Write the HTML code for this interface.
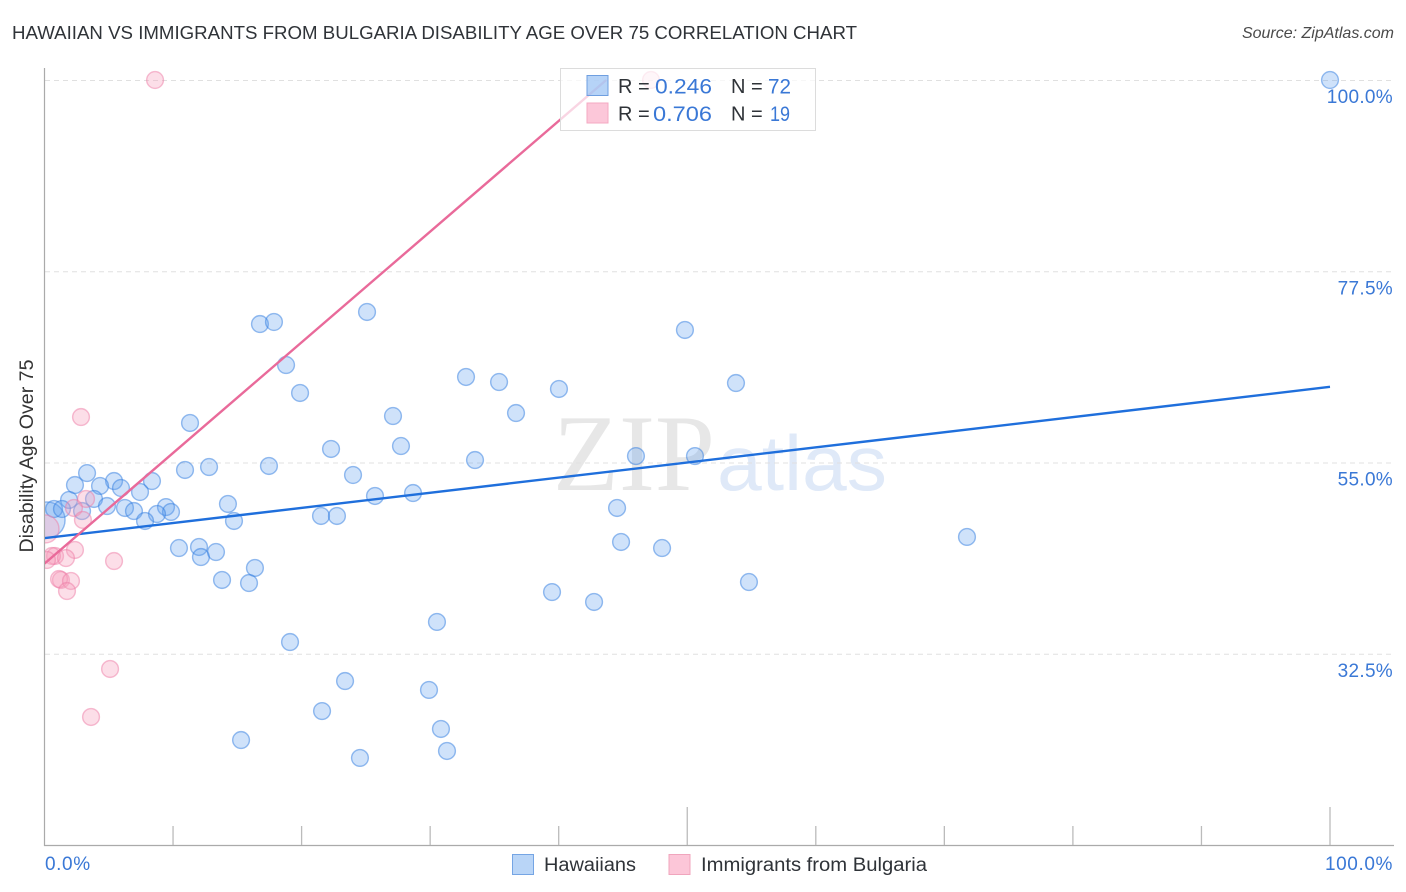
<!DOCTYPE html>
<html lang="en">
<head>
<meta charset="utf-8">
<title>Hawaiian vs Immigrants from Bulgaria Disability Age Over 75 Correlation Chart</title>
<style>
html,body{margin:0;padding:0;background:#fff;width:1406px;height:892px;overflow:hidden}
svg{display:block;font-family:"Liberation Sans",sans-serif}
</style>
</head>
<body>
<svg id="chart" width="1406" height="892" viewBox="0 0 1406 892" xmlns="http://www.w3.org/2000/svg">
  <defs><clipPath id="plot-clip"><rect x="45" y="60" width="1349" height="785"/></clipPath></defs>
  <text x="12" y="39" font-size="18.5" fill="#2f3338" textLength="845" lengthAdjust="spacingAndGlyphs">HAWAIIAN VS IMMIGRANTS FROM BULGARIA DISABILITY AGE OVER 75 CORRELATION CHART</text>
  <text x="1394" y="38" font-size="16" font-style="italic" fill="#4a4a4a" text-anchor="end">Source: ZipAtlas.com</text>
  <g>
    <text x="553" y="490" font-family="'Liberation Serif',serif" font-size="109" fill="#e7e7e7" textLength="162" lengthAdjust="spacingAndGlyphs">ZIP</text>
    <text x="717" y="490" font-size="78" fill="#dfe9f8" textLength="170" lengthAdjust="spacingAndGlyphs">atlas</text>
  </g>
  <g id="grid"></g>
  <g id="axes"></g>
  <g id="series" clip-path="url(#plot-clip)"></g>
  <text transform="translate(33,456) rotate(-90)" font-size="19" fill="#333" text-anchor="middle" textLength="193" lengthAdjust="spacingAndGlyphs">Disability Age Over 75</text>

  <g>
    <rect x="560.5" y="68.5" width="255" height="62" fill="#fff" fill-opacity="0.72" stroke="#dcdcdc"/>
    <rect x="587" y="75.5" width="21" height="20" fill="#8fbcf3" fill-opacity="0.65" stroke="#6f9fe0"/>
    <rect x="587" y="103" width="21" height="20" fill="#fbb4cc" fill-opacity="0.75" stroke="#f4a8c2"/>
    <g font-size="20" fill="#2f3338">
      <text x="618" y="93">R =</text>
      <text x="731" y="93">N =</text>
      <text x="618" y="120.500">R =</text>
      <text x="731" y="120.500">N =</text>
    </g>
    <g font-size="21" fill="#3a78d6">
      <text x="655" y="93.500" textLength="57" lengthAdjust="spacingAndGlyphs">0.246</text>
      <text x="768" y="93.500" textLength="23" lengthAdjust="spacingAndGlyphs">72</text>
      <text x="653" y="121" textLength="59" lengthAdjust="spacingAndGlyphs">0.706</text>
      <text x="770" y="121" textLength="20" lengthAdjust="spacingAndGlyphs">19</text>
    </g>
  </g>

  <g>
    <g>
      <rect x="512.500" y="854.500" width="21" height="20" fill="#b9d5f7" stroke="#75a5e4"/>
      <text x="544" y="871" font-size="19" fill="#2f3338" textLength="92" lengthAdjust="spacingAndGlyphs">Hawaiians</text>
    </g>
    <g>
      <rect x="669" y="854.500" width="21" height="20" fill="#fcc6d8" stroke="#f0a5bd"/>
      <text x="701" y="871" font-size="19" fill="#2f3338" textLength="226" lengthAdjust="spacingAndGlyphs">Immigrants from Bulgaria</text>
    </g>
  </g>
</svg>
<script>
const yTickValues = [100, 77.5, 55, 32.5];
const yTickLabels = ["100.0%", "77.5%", "55.0%", "32.5%"];
const xTickValues = [10, 20, 30, 40, 50, 60, 70, 80, 90, 100];
const xMajorTicks = [50, 100];
const xEndValues = [0, 100];
const xEndLabels = ["0.0%", "100.0%"];

const hawaiianX = [100, 25.09, 16.76, 17.85, 49.82, 18.79, 32.79, 35.36, 53.79, 40.02, 19.88, 36.68, 27.11, 11.32, 27.73, 22.29, 46.01, 50.6, 33.49, 17.46, 12.8, 10.93, 24, 3.31, 5.41, 8.36, 2.37, 4.32, 5.95, 7.43, 28.67, 25.71, 3.85, 1.91, 14.27, 0.74, 1.36, 4.86, 6.26, 6.96, 9.45, 9.84, 8.75, 7.82, 21.51, 22.75, 44.54, 14.74, 71.76, 44.85, 48.04, 10.46, 12.02, 12.17, 13.34, 16.37, 13.81, 15.91, 54.8, 39.48, 42.75, 30.53, 19.1, 23.38, 29.91, 21.59, 30.84, 15.29, 31.31, 24.54, 2.92];
const hawaiianY = [100, 72.71, 71.29, 71.53, 70.59, 66.47, 65.06, 64.47, 64.35, 63.65, 63.18, 60.82, 60.47, 59.65, 56.94, 56.59, 55.76, 55.76, 55.29, 54.59, 54.47, 54.12, 53.53, 53.76, 52.82, 52.82, 52.35, 52.24, 52, 51.53, 51.41, 51.06, 50.71, 50.59, 50.12, 49.53, 49.53, 49.88, 49.65, 49.29, 49.76, 49.18, 48.94, 48.12, 48.71, 48.71, 49.65, 48.12, 46.24, 45.65, 44.94, 44.94, 45.06, 43.88, 44.47, 42.59, 41.18, 40.82, 40.94, 39.76, 38.59, 36.24, 33.88, 29.29, 28.24, 25.76, 23.65, 22.35, 21.06, 20.24, 49.29];
const hawaiianLargeX = [0.2];
const hawaiianLargeY = [48.24];

const bulgariaX = [8.6, 47.18, 2.84, 3.23, 2.29, 2.99, 2.37, 0.82, 0.58, 1.67, 0.19, 5.41, 1.28, 1.13, 2.06, 1.75, 5.1, 3.62];
const bulgariaY = [100, 100, 60.35, 50.71, 49.65, 48.24, 44.71, 44, 44, 43.76, 43.53, 43.41, 41.18, 41.29, 41.06, 39.88, 30.71, 25.06];
const bulgariaLargeX = [0.04];
const bulgariaLargeY = [47.18];

const hawaiianTrendX = [0, 100];
const hawaiianTrendY = [46.1, 63.9];
const bulgariaTrendX = [0, 43.7];
const bulgariaTrendY = [43.1, 100];

const sx = function (v) { return 44.5 + v * 12.855; };
const sy = function (v) { return 80 + (100 - v) * 8.5; };
const NS = 'http://www.w3.org/2000/svg';
const gridLayer = document.getElementById('grid');
const axesLayer = document.getElementById('axes');
const seriesLayer = document.getElementById('series');

function mk(tag, attrs, parent) {
  const node = document.createElementNS(NS, tag);
  Object.keys(attrs).forEach(function (k) { node.setAttribute(k, attrs[k]); });
  parent.appendChild(node);
  return node;
}

yTickValues.forEach(function (v, i) {
  const line = mk('line', {x1: 45, x2: 1394, y1: sy(v) + 0.5, y2: sy(v) + 0.5, stroke: '#e0e0e0', 'stroke-dasharray': '5 4'}, gridLayer);
  
  
  const label = mk('text', {x: 1393, y: sy(v) + 23, 'font-size': 19, 'letter-spacing': 0.3, fill: '#3a78d6', 'text-anchor': 'end'}, axesLayer);
  label.textContent = yTickLabels[i];
  
  
});

const yAxis = mk('line', {x1: 44.5, x2: 44.5, y1: 68, y2: 846, stroke: '#aaaaaa', 'stroke-width': 1.2}, axesLayer);


const xAxis = mk('line', {x1: 44, x2: 1394, y1: 845.5, y2: 845.5, stroke: '#aaaaaa', 'stroke-width': 1.2}, axesLayer);



xTickValues.forEach(function (v) {
  const top = xMajorTicks.indexOf(v) >= 0 ? 807 : 826;
  const tick = mk('line', {x1: sx(v), x2: sx(v), y1: top, y2: 845, stroke: '#bbbbbb', 'stroke-width': 1.3}, axesLayer);
  
  
});

xEndValues.forEach(function (v, i) {
  const label = mk('text', {x: i === 0 ? sx(v) + 0.5 : 1393, y: 870, 'font-size': 19, 'letter-spacing': 0.6, fill: '#3a78d6', 'text-anchor': i === 0 ? 'start' : 'end'}, axesLayer);
  label.textContent = xEndLabels[i];
  
  
});

function drawPoints(xs, ys, radius, fill, fillAlpha, stroke, name) {
  xs.forEach(function (v, i) {
    const dot = mk('circle', {cx: sx(v), cy: sy(ys[i]), r: radius, fill: fill, 'fill-opacity': fillAlpha, stroke: stroke, 'stroke-opacity': 0.5, 'stroke-width': 1.4}, seriesLayer);
    
    
  });
}

drawPoints(hawaiianLargeX, hawaiianLargeY, 18, '#5f9fee', 0.3, '#2f7ce0', 'hawaiians-point-large');
drawPoints(hawaiianX, hawaiianY, 8.4, '#5f9fee', 0.3, '#2f7ce0', 'hawaiians-point');
drawPoints(bulgariaLargeX, bulgariaLargeY, 14, '#f6a0bd', 0.35, '#ee7ba5', 'bulgaria-point-large');
drawPoints(bulgariaX, bulgariaY, 8.4, '#f6a0bd', 0.35, '#ee7ba5', 'bulgaria-point');

const hawaiianTrend = mk('line', {x1: sx(hawaiianTrendX[0]), y1: sy(hawaiianTrendY[0]), x2: sx(hawaiianTrendX[1]), y2: sy(hawaiianTrendY[1]), stroke: '#1f6fdc', 'stroke-width': 2.4}, seriesLayer);


const bulgariaTrend = mk('line', {x1: sx(bulgariaTrendX[0]), y1: sy(bulgariaTrendY[0]), x2: sx(bulgariaTrendX[1]), y2: sy(bulgariaTrendY[1]), stroke: '#e96a9a', 'stroke-width': 2.4}, seriesLayer);


</script>
</body>
</html>
